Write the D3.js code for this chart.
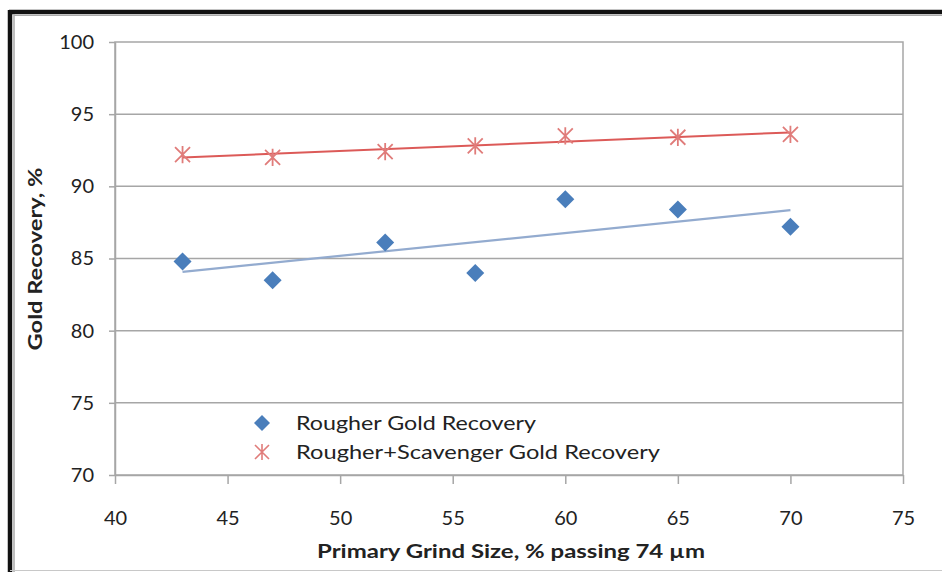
<!DOCTYPE html>
<html>
<head>
<meta charset="utf-8">
<script src="https://cdn.jsdelivr.net/npm/d3@7"></script>
<style>
  html, body { margin: 0; padding: 0; background: #fff; }
  svg { display: block; }
  text { font-family: Lato, "Open Sans", sans-serif; fill: #222; }
</style>
</head>
<body>
<svg id="chart" width="942" height="572"></svg>
<script>
// Primary grind size (% passing 74 µm)
const grindSize = [43, 47, 52, 56, 60, 65, 70];
// Rougher gold recovery, %
const rougherRecovery = [84.8, 83.5, 86.1, 84.0, 89.1, 88.4, 87.2];
// Rougher + scavenger gold recovery, %
const combinedRecovery = [92.2, 92.0, 92.4, 92.8, 93.5, 93.4, 93.6];

const xTicks = [40, 45, 50, 55, 60, 65, 70, 75];
const yTicks = [70, 75, 80, 85, 90, 95, 100];
const seriesNames = ["Rougher Gold Recovery", "Rougher+Scavenger Gold Recovery"];
const xTitle = "Primary Grind Size, % passing 74 µm";
const yTitle = "Gold Recovery, %";

const svg = d3.select("#chart");
const W = 942, H = 572;
const plot = { left: 115, right: 903, top: 42, bottom: 475 };

const x = d3.scaleLinear().domain([40, 75]).range([plot.left, plot.right]);
const y = d3.scaleLinear().domain([70, 100]).range([plot.bottom, plot.top]);

// frame of the figure
svg.append("line").attr("x1", 9).attr("x2", W).attr("y1", 12).attr("y2", 12)
  .attr("stroke", "#111").attr("stroke-width", 4.5);
svg.append("line").attr("x1", 10).attr("x2", 10).attr("y1", 10).attr("y2", H)
  .attr("stroke", "#111").attr("stroke-width", 4.5);
svg.append("line").attr("x1", 14).attr("x2", 14).attr("y1", 14).attr("y2", H)
  .attr("stroke", "#aaa").attr("stroke-width", 1.5);
svg.append("line").attr("x1", 14).attr("x2", W).attr("y1", 15.5).attr("y2", 15.5)
  .attr("stroke", "#aaa").attr("stroke-width", 1);
svg.append("line").attr("x1", 10).attr("x2", W).attr("y1", 570.5).attr("y2", 570.5)
  .attr("stroke", "#c8c8c8").attr("stroke-width", 1);

const gridColor = "#a6a6a6";

// horizontal gridlines
svg.append("g").selectAll("line").data(yTicks.filter(d => d > 70 && d < 100)).join("line")
  .attr("x1", plot.left).attr("x2", plot.right)
  .attr("y1", d => y(d)).attr("y2", d => y(d))
  .attr("stroke", gridColor).attr("stroke-width", 1.5);

// plot area border
svg.append("rect")
  .attr("x", plot.left).attr("y", plot.top)
  .attr("width", plot.right - plot.left).attr("height", plot.bottom - plot.top)
  .attr("fill", "none").attr("stroke", gridColor).attr("stroke-width", 1.5);

// axes
const xAxis = svg.append("g").attr("transform", `translate(0,${plot.bottom})`)
  .call(d3.axisBottom(x).tickValues(xTicks).tickSize(9).tickSizeOuter(0).tickPadding(27));
const yAxis = svg.append("g").attr("transform", `translate(${plot.left},0)`)
  .call(d3.axisLeft(y).tickValues(yTicks).tickSize(6).tickSizeOuter(0).tickPadding(15));
[xAxis, yAxis].forEach(g => {
  g.select(".domain").attr("stroke", gridColor).attr("stroke-width", 1.5);
  g.selectAll(".tick line").attr("stroke", gridColor).attr("stroke-width", 1.5);
  g.selectAll(".tick text").attr("font-size", 20).attr("fill", "#222")
    .attr("font-family", "Lato, sans-serif");
});

// least-squares trendline of a series
function trend(xs, ys) {
  const n = xs.length;
  const mx = d3.mean(xs), my = d3.mean(ys);
  let sxy = 0, sxx = 0;
  for (let i = 0; i < n; i++) { sxy += (xs[i] - mx) * (ys[i] - my); sxx += (xs[i] - mx) ** 2; }
  const b = sxy / sxx, a = my - b * mx;
  const x0 = d3.min(xs), x1 = d3.max(xs);
  return [[x0, a + b * x0], [x1, a + b * x1]];
}

const line = d3.line().x(d => x(d[0])).y(d => y(d[1]));

const blue = "#4a7ebb", blueTrend = "#93abcf";
const red = "#e07c7a", redTrend = "#dc5a58";

svg.append("path").datum(trend(grindSize, rougherRecovery))
  .attr("d", line).attr("fill", "none").attr("stroke", blueTrend).attr("stroke-width", 2.2);
svg.append("path").datum(trend(grindSize, combinedRecovery))
  .attr("d", line).attr("fill", "none").attr("stroke", redTrend).attr("stroke-width", 2);

// diamond marker
const diamond = s => `M0,${-s}L${s},0L0,${s}L${-s},0Z`;
// asterisk marker: X plus vertical stroke
const star = s => `M${-s},${-s}L${s},${s}M${-s},${s}L${s},${-s}M0,${-s * 1.15}L0,${s * 1.15}`;

svg.append("g").selectAll("path").data(grindSize.map((g, i) => [g, rougherRecovery[i]])).join("path")
  .attr("transform", d => `translate(${x(d[0])},${y(d[1])})`)
  .attr("d", diamond(9)).attr("fill", blue);

svg.append("g").selectAll("path").data(grindSize.map((g, i) => [g, combinedRecovery[i]])).join("path")
  .attr("transform", d => `translate(${x(d[0])},${y(d[1])})`)
  .attr("d", star(7.5)).attr("fill", "none").attr("stroke", red).attr("stroke-width", 1.8);

// legend
const legend = svg.append("g").attr("transform", "translate(262,423)");
legend.append("path").attr("d", diamond(8)).attr("fill", blue);
legend.append("path").attr("transform", "translate(0,29)").attr("d", star(7))
  .attr("fill", "none").attr("stroke", red).attr("stroke-width", 1.6);
legend.selectAll("text.lg").data(seriesNames).join("text").attr("class", "lg")
  .attr("x", 34).attr("y", (d, i) => i * 29).attr("dy", "0.35em")
  .attr("font-size", 20).attr("fill", "#222")
  .attr("textLength", (d, i) => i === 0 ? 240 : 364).attr("lengthAdjust", "spacingAndGlyphs")
  .text(d => d);

// axis titles
svg.append("text").attr("x", 511).attr("y", 552).attr("dy", "0.35em")
  .attr("text-anchor", "middle").attr("font-weight", "bold").attr("font-size", 18)
  .attr("textLength", 388).attr("lengthAdjust", "spacingAndGlyphs")
  .text(xTitle);
svg.append("text").attr("transform", "translate(36,259) rotate(-90)").attr("dy", "0.35em")
  .attr("text-anchor", "middle").attr("font-weight", "bold").attr("font-size", 18)
  .attr("textLength", 183).attr("lengthAdjust", "spacingAndGlyphs")
  .text(yTitle);
</script>
</body>
</html>
